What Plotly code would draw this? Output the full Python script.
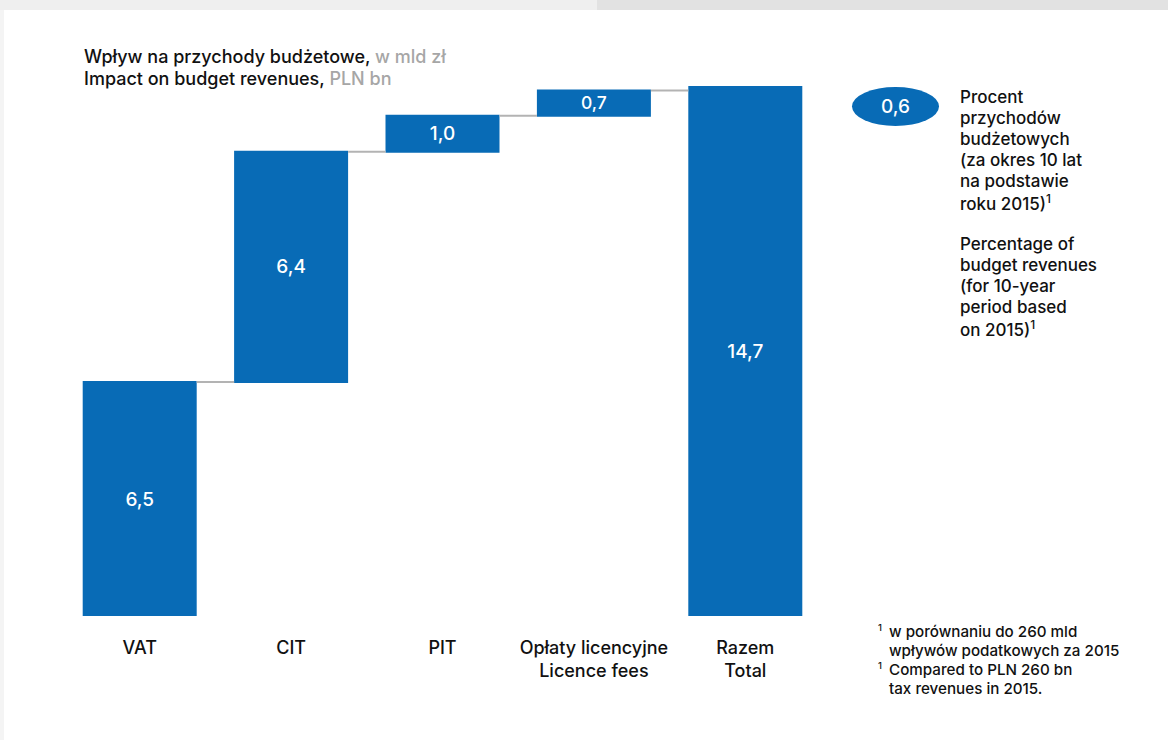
import plotly.graph_objects as go

categories = ["VAT", "CIT", "PIT", "Opłaty licencyjne<br>Licence fees", "Razem<br>Total"]
values = [6.5, 6.4, 1.0, 0.7, 14.7]
measures = ["relative", "relative", "relative", "relative", "absolute"]
badge_value = 0.6

title_lines = [
    "Wpływ na przychody budżetowe, <span style='color:#a6a6a6'>w mld zł</span>",
    "Impact on budget revenues, <span style='color:#a6a6a6'>PLN bn</span>",
]
side_lines = [
    "Procent", "przychodów", "budżetowych", "(za okres 10 lat", "na podstawie",
    "roku 2015)<sup>1</sup>", "", "Percentage of", "budget revenues", "(for 10-year",
    "period based", "on 2015)<sup>1</sup>",
]
note_lines = [
    ("1", "w porównaniu do 260 mld"),
    ("", "wpływów podatkowych za 2015"),
    ("1", "Compared to PLN 260 bn"),
    ("", "tax revenues in 2015."),
]

BLUE = "#086bb6"
FONT = "Inter, Liberation Sans, Arial, sans-serif"
WT = 500
INK = "#111111"

W, H = 1168, 740
L, R, T, B = 64, 347, 80, 124
PW, PH = W - L - R, H - T - B


def px(x):
    return (x - L) / PW


def py(y):
    return (H - B - y) / PH


labels = [f"{v:.1f}".replace(".", ",") for v in values]

fig = go.Figure(go.Waterfall(
    x=list(range(len(categories))),
    y=values,
    measure=measures,
    text=labels,
    textposition="inside",
    insidetextanchor="middle",
    textfont=dict(color="white", size=19, family=FONT, weight=WT),
    increasing=dict(marker=dict(color=BLUE, line=dict(width=0))),
    decreasing=dict(marker=dict(color=BLUE, line=dict(width=0))),
    totals=dict(marker=dict(color=BLUE, line=dict(width=0))),
    connector=dict(line=dict(color="#b3b3b3", width=2), mode="between"),
    hoverinfo="skip",
))

shapes = [
    dict(type="rect", xref="paper", yref="paper", x0=px(0), x1=px(597), y0=py(10), y1=py(0),
         fillcolor="#efefef", line=dict(width=0), layer="below"),
    dict(type="rect", xref="paper", yref="paper", x0=px(597), x1=px(1168), y0=py(10), y1=py(0),
         fillcolor="#e2e2e2", line=dict(width=0), layer="below"),
    dict(type="rect", xref="paper", yref="paper", x0=px(0), x1=px(4), y0=py(740), y1=py(10),
         fillcolor="#f4f4f4", line=dict(width=0), layer="below"),
    dict(type="circle", xref="paper", yref="paper", x0=px(852), x1=px(939), y0=py(126), y1=py(87),
         fillcolor=BLUE, line=dict(width=0)),
]


def text_ann(x, y, text, size, color=INK, anchor="left"):
    return dict(xref="paper", yref="paper", x=px(x), y=py(y), xanchor=anchor, yanchor="middle",
                align="left", showarrow=False, text=text,
                font=dict(size=size, color=color, family=FONT, weight=WT))


annotations = []
for i, t in enumerate(title_lines):
    annotations.append(text_ann(82, 57 + i * 22, t, 18))

annotations.append(text_ann(895.5, 106.5, f"{badge_value:.1f}".replace(".", ","), 19,
                            color="white", anchor="center"))

for i, t in enumerate(side_lines):
    if t:
        annotations.append(text_ann(958, 97 + i * 21, t, 17))

for i, (sup, t) in enumerate(note_lines):
    annotations.append(text_ann(887, 631 + i * 19.2, t, 15.2))
    if sup:
        annotations.append(text_ann(876, 627 + i * 19.2, sup, 9.5))

fig.update_layout(
    width=W, height=H,
    margin=dict(l=L, r=R, t=T, b=B),
    paper_bgcolor="white", plot_bgcolor="white",
    showlegend=False,
    waterfallgap=0.247,
    shapes=shapes,
    annotations=annotations,
    font=dict(family=FONT),
    xaxis=dict(
        tickmode="array", tickvals=list(range(len(categories))), ticktext=categories,
        range=[-0.5, len(categories) - 0.5], showgrid=False, zeroline=False, showline=False,
        ticks="", ticklabelstandoff=19,
        tickfont=dict(size=18, color=INK, family=FONT, weight=WT),
    ),
    yaxis=dict(range=[0, 14.7 * PH / 529], visible=False, showgrid=False),
)

fig.write_html("out.html", config={"displayModeBar": False},
               post_script="document.body.style.margin='0';")
